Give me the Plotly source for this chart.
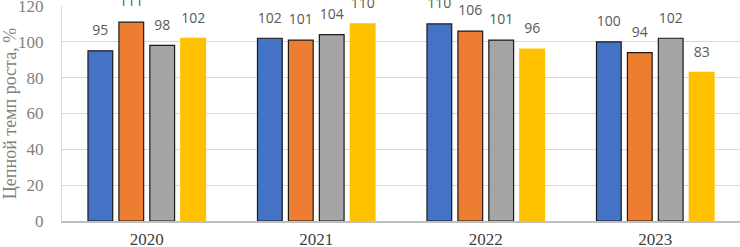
import plotly.graph_objects as go

years = ["2020", "2021", "2022", "2023"]
s1 = [95, 102, 110, 100]
s2 = [111, 101, 106, 94]
s3 = [98, 104, 101, 102]
s4 = [102, 110, 96, 83]
series = [s1, s2, s3, s4]
colors = ["#4472C4", "#ED7D31", "#A5A5A5", "#FFC000"]
outlines = ["#1a1a1a", "#1a1a1a", "#1a1a1a", "#FFC000"]

fig = go.Figure()
for i, (vals, c, oc) in enumerate(zip(series, colors, outlines)):
    fig.add_trace(go.Bar(
        x=years, y=vals, marker=dict(color=c, line=dict(color=oc, width=1.2)),
        offsetgroup=str(i), showlegend=False, hoverinfo="skip",
    ))
for i, vals in enumerate(series):
    fig.add_trace(go.Scatter(
        x=years, y=vals, mode="markers+text", text=[str(v) for v in vals],
        marker=dict(size=18, color="rgba(0,0,0,0)"),
        textposition="top center", offsetgroup=str(i), cliponaxis=False,
        textfont=dict(family="Open Sans", size=14, color="#595959"),
        showlegend=False,
    ))

fig.update_layout(
    width=740, height=247,
    margin=dict(l=62, r=0, t=6, b=26),
    paper_bgcolor="white", plot_bgcolor="white",
    barmode="group", bargap=0.27, bargroupgap=0.2,
    scattermode="group", scattergap=0.27,
    xaxis=dict(showline=True, linecolor="#BFBFBF", linewidth=1.5, automargin=False,
               tickfont=dict(family="Liberation Serif", size=17, color="#404040"),
               ticks="", ticklabelstandoff=2),
    yaxis=dict(range=[0, 120], dtick=20, showgrid=True, gridcolor="#D9D9D9",
               showline=True, linecolor="#D9D9D9", zeroline=False, automargin=False,
               ticklabeloverflow="allow",
               tickfont=dict(family="Liberation Serif", size=17, color="#7F7F7F"),
               ticks="", ticklabelstandoff=14,
               title=dict(text="Цепной темп роста, %", standoff=4,
                          font=dict(family="Liberation Serif", size=18, color="#7F7F7F"))),
)

fig.write_html("out.html", config={"displayModeBar": False},
               post_script="document.body.style.margin='0';document.body.style.overflow='hidden';")
